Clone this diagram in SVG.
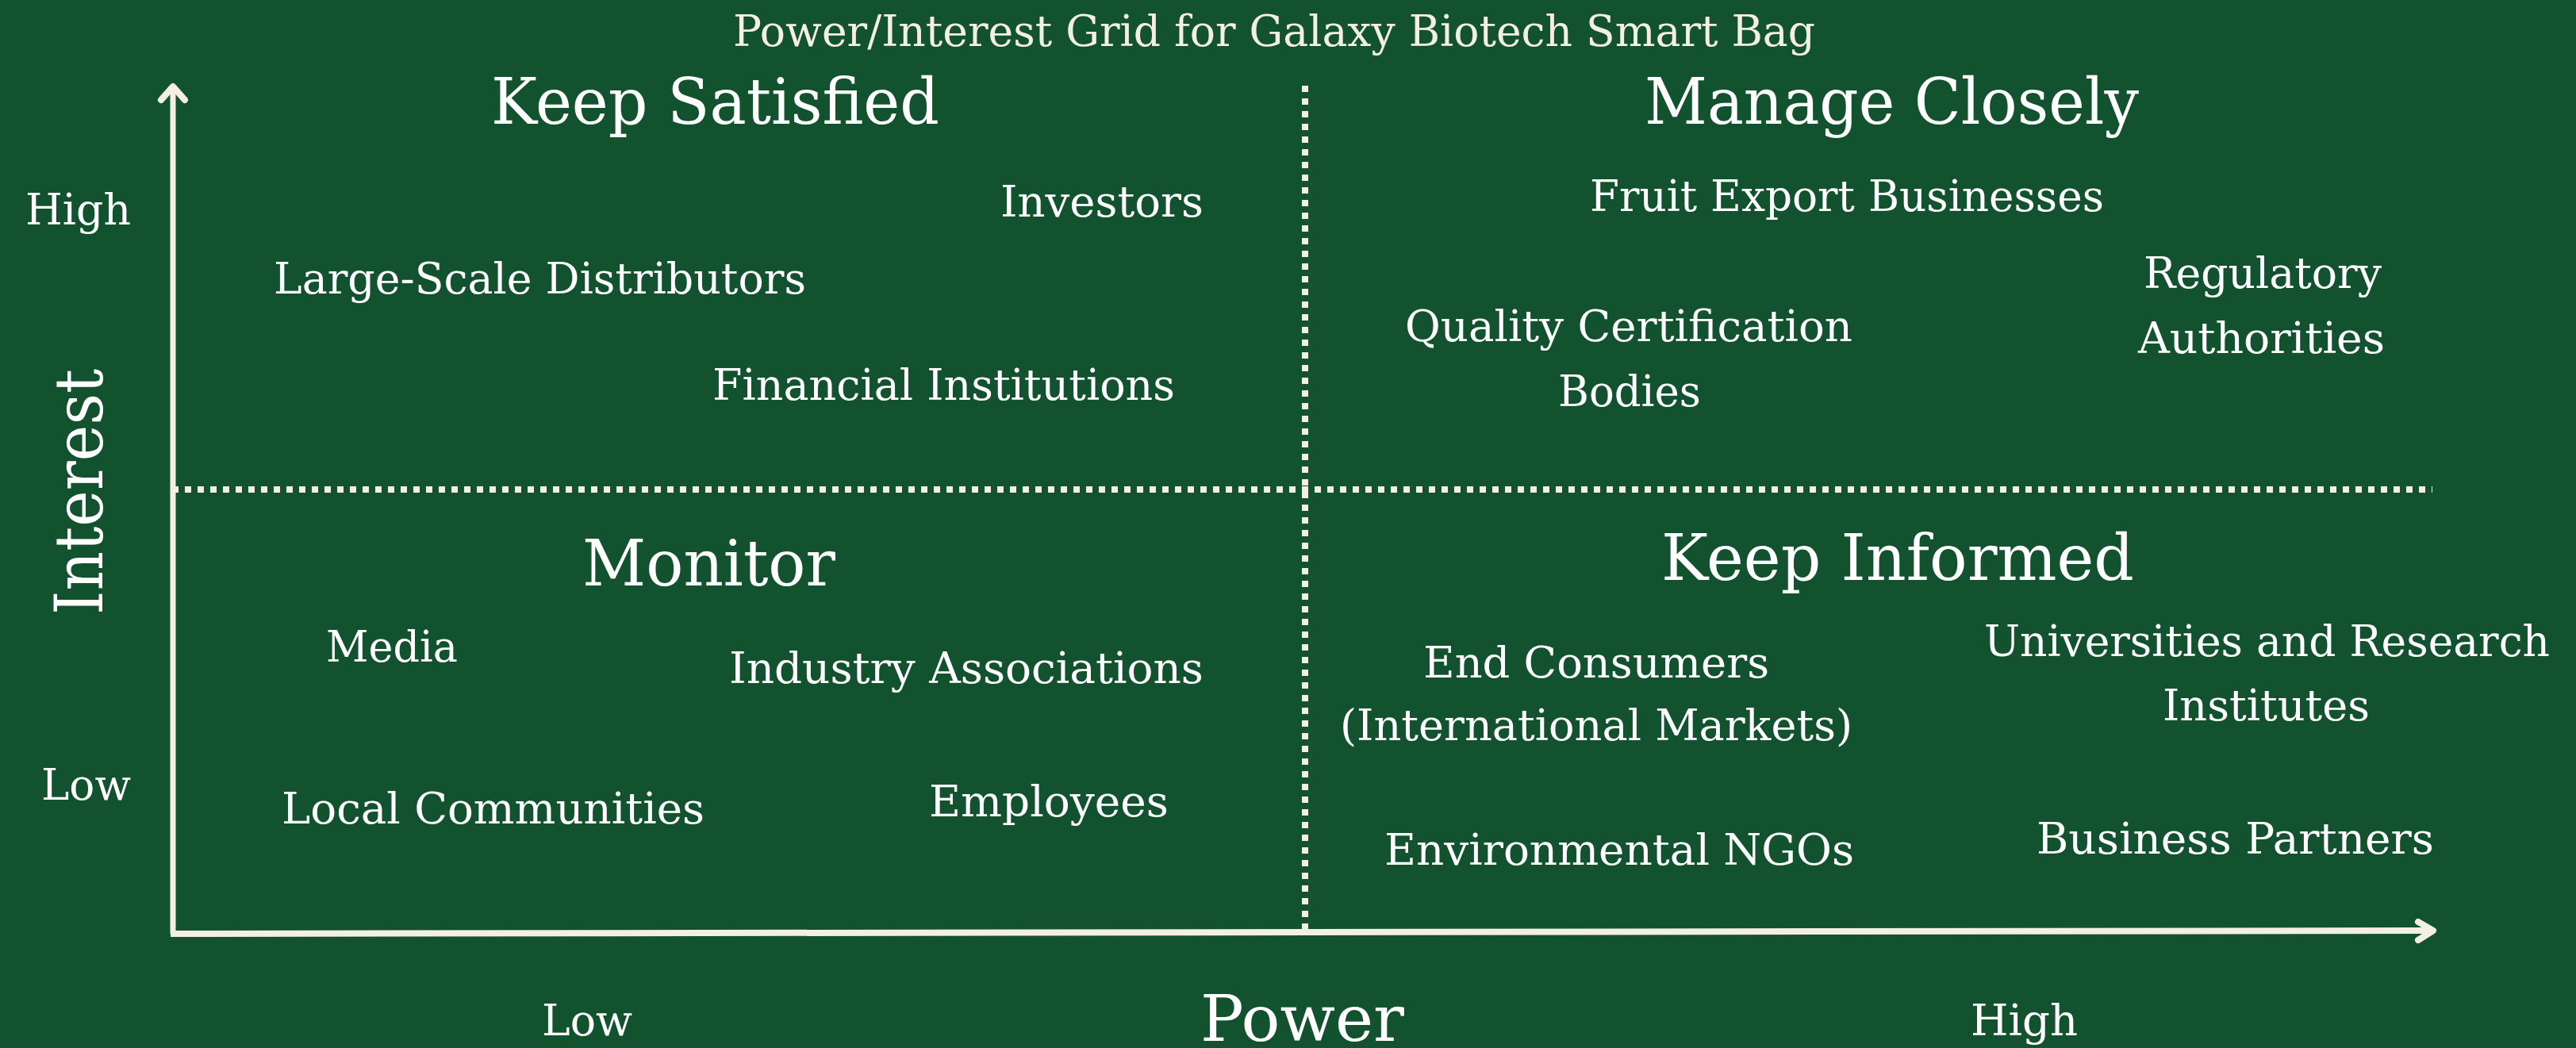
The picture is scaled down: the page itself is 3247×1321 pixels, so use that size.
<svg xmlns="http://www.w3.org/2000/svg" width="3247" height="1321" viewBox="0 0 3247 1321">
  <style>
    .bg { fill: #12522F; }
    text { font-family: "DejaVu Serif", "Liberation Serif", serif; fill: #FFFFFF; }
    .title { font-size: 55px; fill: #F4EFE3; }
    .head { font-size: 81px; }
    .item { font-size: 55px; }
    .tick { font-size: 55px; }
    .axisname { font-size: 84px; }
    .axis { stroke: #F4EFE3; stroke-width: 7; fill: none; stroke-linecap: butt; }
    .tip { stroke: #F4EFE3; stroke-width: 8; fill: none; stroke-linecap: round; stroke-linejoin: round; }
    .div { stroke: #F4EFE3; stroke-width: 8; stroke-dasharray: 8 8; fill: none; }
  </style>

  <rect class="bg" x="0" y="0" width="3247" height="1321"/>

  <!-- grid dividers and axes -->
  <g id="connectors">
    <line class="div" x1="217" y1="617" x2="3066" y2="617"/>
    <line class="div" x1="1645" y1="108" x2="1645" y2="1172"/>
    <line class="axis" x1="218" y1="1177" x2="218" y2="110"/>
    <polyline class="tip" points="203,126 218,109 233,126"/>
    <line class="axis" x1="215" y1="1177" x2="3066" y2="1173" style="stroke-width:8"/>
    <polyline class="tip" points="3048,1162 3067,1173 3048,1185"/>
  </g>

  <g id="title">
    <text class="title" x="924" y="58" textLength="1364" lengthAdjust="spacingAndGlyphs">Power/Interest Grid for Galaxy Biotech Smart Bag</text>
  </g>

  <!-- axis labels -->
  <g id="axis-interest">
    <text class="axisname" transform="translate(129,775) rotate(-90)" x="0" y="0" textLength="310" lengthAdjust="spacingAndGlyphs">Interest</text>
  </g>
  <g id="axis-power">
    <text class="head" x="1513" y="1312" textLength="257" lengthAdjust="spacingAndGlyphs">Power</text>
  </g>
  <g id="interest-high"><text class="tick" x="32" y="283" textLength="133" lengthAdjust="spacingAndGlyphs">High</text></g>
  <g id="interest-low"><text class="tick" x="52" y="1008" textLength="113" lengthAdjust="spacingAndGlyphs">Low</text></g>
  <g id="power-low"><text class="tick" x="683" y="1305" textLength="114" lengthAdjust="spacingAndGlyphs">Low</text></g>
  <g id="power-high"><text class="tick" x="2484" y="1305" textLength="135" lengthAdjust="spacingAndGlyphs">High</text></g>

  <!-- quadrant headings -->
  <g id="keep-satisfied"><text class="head" x="619" y="156" textLength="565" lengthAdjust="spacingAndGlyphs">Keep Satisfied</text></g>
  <g id="manage-closely"><text class="head" x="2073" y="156" textLength="623" lengthAdjust="spacingAndGlyphs">Manage Closely</text></g>
  <g id="monitor"><text class="head" x="734" y="738" textLength="319" lengthAdjust="spacingAndGlyphs">Monitor</text></g>
  <g id="keep-informed"><text class="head" x="2094" y="731" textLength="596" lengthAdjust="spacingAndGlyphs">Keep Informed</text></g>

  <!-- stakeholders: keep satisfied -->
  <g id="investors"><text class="item" x="1261" y="273" textLength="256" lengthAdjust="spacingAndGlyphs">Investors</text></g>
  <g id="large-scale-distributors"><text class="item" x="345" y="370" textLength="671" lengthAdjust="spacingAndGlyphs">Large-Scale Distributors</text></g>
  <g id="financial-institutions"><text class="item" x="898" y="504" textLength="583" lengthAdjust="spacingAndGlyphs">Financial Institutions</text></g>

  <!-- stakeholders: manage closely -->
  <g id="fruit-export-businesses"><text class="item" x="2004" y="266" textLength="648" lengthAdjust="spacingAndGlyphs">Fruit Export Businesses</text></g>
  <g id="quality-certification-bodies">
    <text class="item" x="1771" y="430" textLength="564" lengthAdjust="spacingAndGlyphs">Quality Certification</text>
    <text class="item" x="1964" y="512" textLength="180" lengthAdjust="spacingAndGlyphs">Bodies</text>
  </g>
  <g id="regulatory-authorities">
    <text class="item" x="2702" y="363" textLength="300" lengthAdjust="spacingAndGlyphs">Regulatory</text>
    <text class="item" x="2695" y="445" textLength="311" lengthAdjust="spacingAndGlyphs">Authorities</text>
  </g>

  <!-- stakeholders: monitor -->
  <g id="media"><text class="item" x="411" y="834" textLength="166" lengthAdjust="spacingAndGlyphs">Media</text></g>
  <g id="industry-associations"><text class="item" x="919" y="861" textLength="598" lengthAdjust="spacingAndGlyphs">Industry Associations</text></g>
  <g id="local-communities"><text class="item" x="355" y="1038" textLength="533" lengthAdjust="spacingAndGlyphs">Local Communities</text></g>
  <g id="employees"><text class="item" x="1171" y="1029" textLength="302" lengthAdjust="spacingAndGlyphs">Employees</text></g>

  <!-- stakeholders: keep informed -->
  <g id="end-consumers">
    <text class="item" x="1794" y="854" textLength="436" lengthAdjust="spacingAndGlyphs">End Consumers</text>
    <text class="item" x="1689" y="933" textLength="646" lengthAdjust="spacingAndGlyphs">(International Markets)</text>
  </g>
  <g id="universities-research">
    <text class="item" x="2501" y="827" textLength="713" lengthAdjust="spacingAndGlyphs">Universities and Research</text>
    <text class="item" x="2726" y="908" textLength="261" lengthAdjust="spacingAndGlyphs">Institutes</text>
  </g>
  <g id="environmental-ngos"><text class="item" x="1745" y="1090" textLength="592" lengthAdjust="spacingAndGlyphs">Environmental NGOs</text></g>
  <g id="business-partners"><text class="item" x="2567" y="1076" textLength="501" lengthAdjust="spacingAndGlyphs">Business Partners</text></g>
</svg>
